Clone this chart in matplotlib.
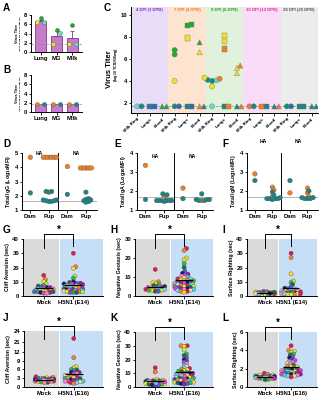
import numpy as np
import matplotlib
matplotlib.use('Agg')
import matplotlib.pyplot as plt

# ---------------- data ----------------
# A / B : virus titer per tissue (one value per dam)
ab_tissues = ['Lung', 'MG', 'Milk']
a_yellow = [6.4, 1.7, 1.7]
a_green = [7.3, 4.8, 5.8]
a_cyan = [6.4, 4.2, 1.7]
b_orange = [1.7, 1.7, 1.7]
b_teal = [1.7, 1.7, 1.7]
lod_titer = 1.7

# C : virus titer in pups over time
c_groups = ['4 DPI (1 DPB)', '7 DPI (4 DPB)', '9 DPI (6 DPB)', '15 DPI (12 DPB)', '28 DPI (25 DPB)']
c_tissues = ['Milk Ring', 'Lungs', 'Blood']
c_cat = [0, 0, 1, 1, 2, 2,
         3, 3, 3, 3, 3, 4, 4, 4, 4, 4, 5, 5, 5, 5,
         6, 6, 6, 6, 6, 6, 6, 7, 7, 7, 7, 7, 8, 8, 8, 8, 8,
         9, 9, 10, 10, 11, 11,
         12, 12, 13, 13, 14, 14]
c_val = [1.7, 1.7, 1.7, 1.7, 1.7, 1.7,
         6.8, 6.4, 4.0, 1.7, 1.7, 9.0, 9.1, 7.9, 1.7, 1.7, 7.5, 6.6, 1.7, 1.7,
         4.1, 4.05, 4.2, 4.0, 4.3, 3.5, 1.7, 8.1, 7.6, 6.9, 1.7, 1.7, 5.2, 4.7, 5.4, 1.7, 1.7,
         1.7, 1.7, 1.7, 1.7, 1.7, 1.7,
         1.7, 1.7, 1.7, 1.7, 1.7, 1.7]
# dam index: 0 cyan, 1 teal, 2 blue, 3 orange, 4 green, 5 yellow
c_dam = [0, 1, 1, 2, 4, 4,
         4, 4, 5, 1, 2, 4, 4, 5, 1, 2, 4, 5, 3, 1,
         1, 0, 3, 1, 5, 5, 0, 5, 5, 3, 1, 3, 5, 5, 3, 1, 3,
         3, 1, 3, 1, 1, 3,
         1, 2, 1, 1, 1, 1]

# D-F : antibody levels (HA Dam, HA Pup, NA Dam, NA Pup)
ab_cats = ['Dam', 'Pup', 'Dam', 'Pup']
igg_orange = [[4.7], [4.7, 4.7, 4.7, 4.7, 4.7, 4.7], [4.05], [3.95, 3.95, 3.95, 3.95, 3.95]]
igg_teal = [[2.2], [2.3, 2.3, 2.25, 1.7, 1.6, 1.65, 1.7, 1.6, 1.65], [2.1],
            [2.25, 1.8, 1.75, 1.7, 1.65, 1.6, 1.55]]
iga_orange = [[3.35], [1.75], [2.15], [1.5]]
iga_teal = [[1.55], [1.85, 1.8, 1.5, 1.5, 1.5, 1.5, 1.5, 1.5, 1.5, 1.45], [1.6],
            [1.85, 1.55, 1.55, 1.5, 1.5, 1.55]]
igm_orange = [[2.9], [2.2, 2.05, 1.7], [1.9], [2.15, 1.9, 1.7]]
igm_teal = [[2.55], [1.95, 1.8, 1.6, 1.6, 1.6, 1.55, 1.65, 1.6], [2.55],
            [2.0, 1.65, 1.6, 1.6, 1.6, 1.65]]

# G-L : neurodevelopment tests
g_mock = [14.5, 11.5, 10, 8.5, 7.5, 7, 6.5, 6, 6, 5.5, 5, 5, 4.5, 4.5, 4, 4, 3.5, 3.5, 3, 3, 3, 2.5, 2.5, 2, 2]
g_h5n1 = [30, 20.5, 19.5, 14, 12.5, 9.5, 9, 8.5, 8, 8, 7.5, 7, 7, 6.5, 6.5, 6, 6, 5.5, 5.5, 5,
          5, 4.5, 4.5, 4, 4, 4, 3.5, 3.5, 3.5, 3, 3, 3, 2.5, 2.5, 2.5, 10, 9, 8.5, 7.5, 7]
h_mock = [14, 7.5, 7, 6.5, 6, 5.5, 5, 5, 4.5, 4.5, 4, 4, 4, 3.5, 3.5, 3.5, 3, 3, 3, 2.5, 2.5]
h_h5n1 = [25, 24, 20, 19, 17, 15, 13, 12, 11.5, 11, 10.5, 10, 9.5, 9, 9, 8.5, 8.5, 8, 8, 7.5,
          7.5, 7, 7, 6.5, 6.5, 6, 6, 6, 5.5, 5.5, 5, 5, 5, 4.5, 4.5, 4, 4, 4, 3.5, 3.5, 3, 3, 2.5, 2.5, 2]
i_mock = [3.2, 3, 2.8, 2.5, 2.5, 2.3, 2.2, 2, 2, 2, 1.8, 1.8, 1.6, 1.5, 1.5, 1.3, 1.2, 1, 1, 2.7, 2.4, 1.9]
i_h5n1 = [30, 27, 15.5, 10.5, 9.5, 8, 6.5, 5.5, 5, 4.5, 4, 4, 3.5, 3.5, 3, 3, 3, 2.5, 2.5, 2.5,
          2, 2, 2, 2, 1.8, 1.8, 1.5, 1.5, 1.5, 1.2, 1.2, 1]
j_mock = [3.5, 3.3, 3.1, 3, 3, 2.8, 2.7, 2.6, 2.5, 2.5, 2.4, 2.3, 2.2, 2.1, 2, 2, 1.9, 1.8, 1.7, 1.6,
          2.9, 2.6, 2.4, 2.2, 1.5]
j_h5n1 = [22, 10, 7, 6.5, 6, 5.8, 5.5, 5, 5, 4.5, 4.5, 4, 4, 3.8, 3.5, 3.5, 3.2, 3, 3, 2.8,
          2.5, 2.5, 2.3, 2, 2, 2, 1.8, 1.5, 1.5, 1.2]
k_mock = [14, 11, 5.5, 5, 5, 4.5, 4.5, 4, 4, 4, 3.5, 3.5, 3.5, 3, 3, 3, 2.5, 2.5, 2, 2, 1.5, 1.5, 1,
          3.8, 4.2, 2.8]
k_h5n1 = [30, 30, 29.5, 27, 24, 23, 21.5, 20, 19, 18, 17, 16, 15, 14, 13.5, 13, 12.5, 12, 11.5, 11,
          10.5, 10, 10, 9.5, 9, 9, 8.5, 8, 8, 7.5, 7, 7, 6.5, 6.5, 6, 6, 5.5, 5.5, 5, 5,
          4.5, 4.5, 4, 4, 3.5, 3.5, 3, 3, 2.5, 2.5, 2]
l_mock = [1.5, 1.4, 1.3, 1.3, 1.2, 1.2, 1.2, 1.1, 1.1, 1.1, 1.1, 1, 1, 1, 1, 0.95, 0.9, 0.9, 0.85, 0.8,
          1.05, 1.15, 0.95, 1.0]
l_h5n1 = [4.5, 4.0, 3.9, 3.8, 3.6, 3.5, 3.3, 3.2, 3.0, 2.9, 2.8, 2.7, 2.6, 2.5, 2.4, 2.3, 2.2, 2.2, 2.1,
          2.0, 2.0, 1.9, 1.9, 1.8, 1.8, 1.7, 1.7, 1.7, 1.6, 1.6, 1.6, 1.5, 1.5, 1.5, 1.5, 1.4, 1.4,
          1.4, 1.3, 1.3, 1.2, 1.2, 1.1]

# ---------------- style ----------------
plt.rcParams['font.family'] = ['Liberation Sans', 'DejaVu Sans']
plt.rcParams['font.weight'] = 'bold'
plt.rcParams['axes.labelweight'] = 'bold'

W, H = 321, 400
dam_colors = ['#5fe0c8', '#1b8585', '#2b6cb0', '#f07f1f', '#22a832', '#f2e424']
swarm_palette = ['#e6194b', '#f58231', '#ffe119', '#bfef45', '#3cb44b', '#1b6e3a', '#4363d8',
                 '#0a1a6e', '#911eb4', '#f032e6', '#ff7fbf', '#42d4f4', '#ffd8a8', '#7fd8f0']
orange = '#f07f1f'
teal = '#1b8585'

fig = plt.figure(figsize=(W / 100, H / 100), dpi=100)


def add_ax(x0, y0, x1, y1):
    return fig.add_axes([x0 / W, 1 - y1 / H, (x1 - x0) / W, (y1 - y0) / H])


def style(ax, size=4.2):
    for s in ['top', 'right']:
        ax.spines[s].set_visible(False)
    for s in ['left', 'bottom']:
        ax.spines[s].set_linewidth(0.7)
    ax.tick_params(width=0.6, length=1.8, labelsize=size, pad=1)


def swarm(ax, xc, vals, diam, maxw=None):
    """Beeswarm offsets (data units) for points at category xc, capped at maxw pixels."""
    vals = np.asarray(vals, dtype=float)
    pts = ax.transData.transform(np.column_stack([np.full(len(vals), xc), vals]))
    ys = pts[:, 1]
    x0 = pts[0, 0]
    steps = [0.0]
    for k in range(1, 80):
        steps += [k * diam * 0.3, -k * diam * 0.3]
    if maxw is not None:
        steps = [c for c in steps if abs(c) <= maxw]
    px, py = [], []
    xs = np.zeros(len(vals))
    for i in np.argsort(vals, kind='stable'):
        best, best_d = 0.0, -1.0
        for c in steps:
            d = min([np.hypot(c - a, ys[i] - b) for a, b in zip(px, py)], default=1e9)
            if d >= diam:
                best = c
                break
            if d > best_d:
                best, best_d = c, d
        xs[i] = best
        px.append(best)
        py.append(ys[i])
    back = ax.transData.inverted().transform(np.column_stack([x0 + xs, ys]))
    return back[:, 0]


def letter(x, y, s):
    fig.text(x / W, 1 - y / H, s, fontsize=7.2, weight='bold', va='top', ha='left')


def titer_label(ax):
    # two-line y label, second line much smaller as in the original
    ax.text(-0.27, 0.5, 'Virus Titer', transform=ax.transAxes, rotation=90, ha='center',
            va='center', fontsize=2.8, weight='bold')
    ax.text(-0.19, 0.5, '(log$_{10}$ TCID$_{50}$/mg or TCID$_{50}$/ml)', transform=ax.transAxes,
            rotation=90, ha='center', va='center', fontsize=1.7, weight='bold')


# ---------------- A ----------------
ax = add_ax(31, 15, 82, 52)
style(ax)
xs = np.arange(3)
vals = np.array([a_yellow, a_green, a_cyan])
means = vals.mean(0)
sem = vals.std(0, ddof=1) / np.sqrt(3)
ax.set_xlim(-0.6, 2.6)
ax.set_ylim(0, 8)
ax.bar(xs, means, width=0.72, color='#c67bcb', edgecolor='#7e3c88', lw=0.6, zorder=1)
ax.errorbar(xs, means, yerr=[np.zeros(3), sem], fmt='none', ecolor='#7e3c88',
            elinewidth=0.6, capsize=1.5, capthick=0.6, zorder=2)
ax.axhline(lod_titer, ls='--', color='#888888', lw=0.5, zorder=3)
for v, col, off in [(a_yellow, dam_colors[5], -0.22), (a_green, dam_colors[4], 0.0), (a_cyan, dam_colors[0], 0.22)]:
    ax.scatter(xs + off, v, s=9, color=col, edgecolor='#555555', lw=0.25, zorder=4, clip_on=False)
ax.set_yticks([0, 2, 4, 6, 8])
ax.set_xticks(xs, ab_tissues)
titer_label(ax)
letter(3, 3, 'A')

# ---------------- B ----------------
ax = add_ax(31, 75, 82, 112)
style(ax)
ax.set_xlim(-0.6, 2.6)
ax.set_ylim(0, 8)
ax.bar(xs, np.mean([b_orange, b_teal], axis=0), width=0.72, color='#c67bcb', edgecolor='#7e3c88', lw=0.6, zorder=1)
ax.axhline(lod_titer + 0.1, ls='--', color='#999999', lw=0.5, zorder=2)
ax.scatter(xs - 0.2, b_orange, s=9, color=orange, edgecolor='#555555', lw=0.25, zorder=4)
ax.scatter(xs + 0.2, b_teal, s=9, color=teal, edgecolor='#555555', lw=0.25, zorder=4)
ax.set_yticks([0, 2, 4, 6, 8])
ax.set_xticks(xs, ab_tissues)
titer_label(ax)
letter(3, 65, 'B')

# ---------------- C ----------------
ax = add_ax(131, 7, 318, 113)
style(ax)
band_colors = ['#e9dcf6', '#fde4d0', '#e0f2dc', '#fbdcf8', '#ececec']
head_colors = ['#7a30bd', '#ee7b1c', '#2a9a2a', '#de2a9a', '#555555']
ax.set_xlim(-0.5, 14.5)
ax.set_ylim(1.1, 10.7)
for g in range(5):
    ax.axvspan(3 * g - 0.5, 3 * g + 2.5, color=band_colors[g], lw=0, zorder=0)
    ax.text(3 * g + 1, 10.4, c_groups[g], color=head_colors[g], ha='center', va='center',
            fontsize=3.1, weight='bold')
ax.axhline(lod_titer, ls='--', color='#888888', lw=0.5, zorder=1)
markers = ['o', 's', '^']
cat = np.array(c_cat)
val = np.array(c_val)
dam = np.array(c_dam)
for k in range(15):
    idx = np.where(cat == k)[0]
    xo = swarm(ax, k, val[idx], 3.6)
    ax.scatter(xo, val[idx], s=14, marker=markers[k % 3], c=[dam_colors[d] for d in dam[idx]],
               edgecolor='#777777', lw=0.3, zorder=3)
ax.set_yticks([2, 4, 6, 8, 10])
ax.set_xticks(range(15), c_tissues * 5, rotation=45, ha='right', rotation_mode='anchor', fontsize=3.2)
ax.text(-0.115, 0.41, 'Virus Titer', transform=ax.transAxes, rotation=90, ha='center', va='center',
        fontsize=5.5, weight='bold')
ax.text(-0.082, 0.46, '(log$_{10}$ TCID$_{50}$/mg)', transform=ax.transAxes, rotation=90, ha='center',
        va='center', fontsize=2.8, weight='bold')
letter(104, 3, 'C')

# ---------------- D-F ----------------
def antibody(box, org, tea, ylim, lod, ylabel, lab_y, let, let_xy):
    ax = add_ax(*box)
    style(ax)
    ax.set_xlim(-0.45, 3.6)
    ax.set_ylim(*ylim)
    ax.axhline(lod, color='#aaaaaa', lw=0.6, zorder=1)
    ax.axvline(1.5, color='black', lw=0.7, zorder=1)
    for k in range(4):
        v = org[k] + tea[k]
        cols = [orange] * len(org[k]) + [teal] * len(tea[k])
        xo = swarm(ax, k, v, 2.3, maxw=8)
        ax.scatter(xo, v, s=11, c=cols, edgecolor='#555555', lw=0.25, zorder=3, clip_on=False)
    ax.set_yticks(np.arange(ylim[0], ylim[1] + 1))
    ax.set_xticks(range(4), ab_cats)
    ax.set_ylabel(ylabel, fontsize=3.8, labelpad=1.5)
    for xc, t in [(0.5, 'HA'), (2.5, 'NA')]:
        ax.text(xc, lab_y, t, transform=ax.get_xaxis_transform(), ha='center', va='center',
                fontsize=3.6, weight='bold')
    letter(let_xy[0], let_xy[1], let)


antibody((22, 153, 97, 210), igg_orange, igg_teal, (1, 5), 1.65, 'Total IgG (Log$_{10}$MFI)', 1.0, 'D', (3, 139))
antibody((137, 153, 213, 210), iga_orange, iga_teal, (1, 4), 1.7, 'Total IgA (Log$_{10}$MFI)', 0.93, 'E', (114, 139))
antibody((247, 153, 318, 210), igm_orange, igm_teal, (1, 4), 1.7, 'Total IgM (Log$_{10}$MFI)', 1.2, 'F', (222, 139))

# ---------------- G-L ----------------
def neuro(box, mock, h5n1, ylim, yticks, ylabel, group, let, let_xy, broken=False):
    ax = add_ax(*box)
    style(ax)
    if broken:
        fw = ([-100, 0, 12, 21, 24, 100], [-100, 0, 12, 15.25, 19.06, 115.6])
        ax.set_yscale('function', functions=(lambda y: np.interp(y, fw[0], fw[1]),
                                             lambda y: np.interp(y, fw[1], fw[0])))
    ax.set_xlim(-0.7, 2.0)
    ax.set_ylim(*ylim)
    ax.axvspan(-0.66, 0.5, color='#dadada', lw=0, zorder=0)
    ax.axvspan(0.54, 2.0, color='#c6def6', lw=0, zorder=0)
    for xc, v in [(0, mock), (1, h5n1)]:
        xo = swarm(ax, xc, v, 2.6, maxw=10)
        cols = [swarm_palette[i % len(swarm_palette)] for i in range(len(v))]
        ax.scatter(xo, v, s=9, c=cols, edgecolor='#444444', lw=0.25, zorder=3)
        ax.hlines(np.mean(v), xc - 0.3, xc + 0.3, color='black', lw=0.8, zorder=4)
    ax.set_yticks(yticks)
    ax.set_xticks([0, 1], ['Mock', group])
    ax.set_ylabel(ylabel, fontsize=3.8, labelpad=1.5)
    tr = ax.get_xaxis_transform()
    ax.plot([0, 0, 1, 1], [0.85, 1.09, 1.09, 0.88], transform=tr, color='black', lw=0.7, clip_on=False)
    ax.text(0.5, 1.08, '*', transform=tr, ha='center', va='bottom', fontsize=7, weight='bold')
    letter(let_xy[0], let_xy[1], let)


neuro((23, 239, 103, 296), g_mock, g_h5n1, (0, 40), [0, 10, 20, 30, 40], 'Cliff Aversion (sec)',
      'H5N1 (E14)', 'G', (3, 225))
neuro((135, 239, 213, 296), h_mock, h_h5n1, (0, 30), [0, 10, 20, 30], 'Negative Geotaxis (sec)',
      'H5N1 (E14)', 'H', (110, 225))
neuro((247, 239, 317, 296), i_mock, i_h5n1, (0, 40), [0, 10, 20, 30, 40], 'Surface Righting (sec)',
      'H5N1 (E14)', 'I', (222, 225))
neuro((24, 331, 103, 387), j_mock, j_h5n1, (0, 24), [0, 3, 6, 9, 12, 21, 24], 'Cliff Aversion (sec)',
      'H5N1 (E16)', 'J', (3, 313), broken=True)
neuro((135, 332, 213, 387), k_mock, k_h5n1, (0, 40), [0, 10, 20, 30, 40], 'Negative Geotaxis (sec)',
      'H5N1 (E16)', 'K', (110, 313))
neuro((247, 332, 317, 387), l_mock, l_h5n1, (0, 6), [0, 2, 4, 6], 'Surface Righting (sec)',
      'H5N1 (E16)', 'L', (222, 313))

fig.savefig('out.png', dpi=100)
